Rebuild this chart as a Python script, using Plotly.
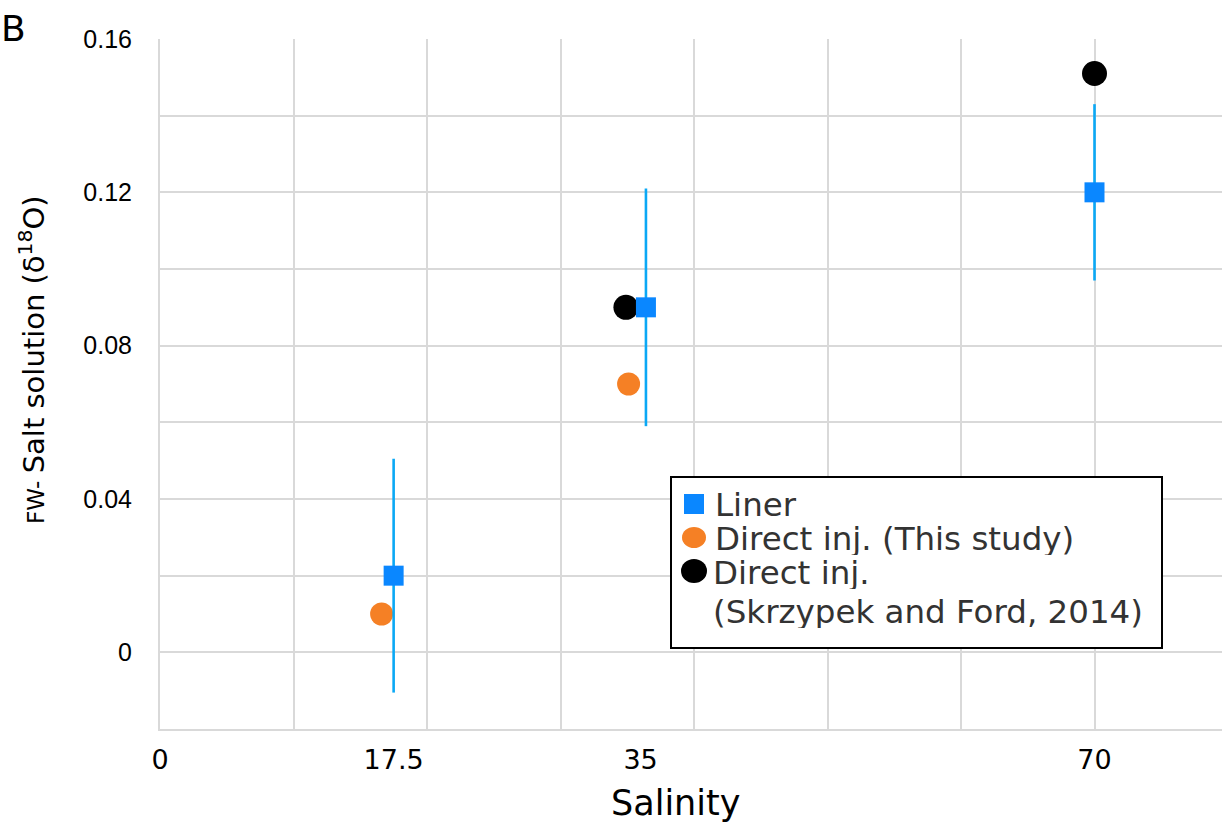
import plotly.graph_objects as go

# ---- data ----
liner_x = [17.5, 36.4, 70.0]
liner_y = [0.02, 0.09, 0.12]
liner_err = [0.0305, 0.031, 0.023]

this_x = [16.6, 35.1]
this_y = [0.01, 0.07]

skrz_x = [34.9, 70.0]
skrz_y = [0.09, 0.151]

x_tick_vals = [0, 17.5, 36.0, 70.0]
x_tick_text = ["0", "17.5", "35", "70"]

legend_labels = ["Liner", "Direct inj. (This study)", "Direct inj.", "(Skrzypek and Ford, 2014)"]

W, H = 1222, 830
L, R, T, B = 160, 0, 39, 101
grid = "#D9D9D9"
c_liner = "#0A87FF"
c_err = "#0AA8F5"
c_this = "#F58025"
c_skrz = "#000000"

fig = go.Figure()

fig.add_trace(go.Scatter(
    x=skrz_x, y=skrz_y, mode="markers",
    name="Direct inj. (Skrzypek and Ford, 2014)",
    marker=dict(symbol="circle", size=25, color=c_skrz, line=dict(width=0)),
))
fig.add_trace(go.Scatter(
    x=this_x, y=this_y, mode="markers",
    name="Direct inj. (This study)",
    marker=dict(symbol="circle", size=23, color=c_this, line=dict(width=0)),
))
fig.add_trace(go.Scatter(
    x=liner_x, y=liner_y, mode="markers",
    name="Liner",
    marker=dict(symbol="square", size=20, color=c_liner, line=dict(width=0)),
    error_y=dict(type="data", array=liner_err, visible=True,
                 color=c_err, thickness=2.6, width=0),
))

fig.update_layout(
    width=W, height=H, autosize=False,
    margin=dict(l=L, r=R, t=T, b=B, pad=0),
    paper_bgcolor="white", plot_bgcolor="white",
    font=dict(family="DejaVu Sans", color="#000000"),
    showlegend=False,
    xaxis=dict(
        range=[0, (W - L - R) / 13.35],
        tickmode="array", tickvals=x_tick_vals, ticktext=x_tick_text,
        showgrid=False, zeroline=False,
        showline=True, linecolor=grid, linewidth=2,
        ticks="", tickfont=dict(family="DejaVu Sans", size=27, color="#000000"),
        ticklabelstandoff=6,
        minor=dict(tick0=0, dtick=10, showgrid=True, gridcolor=grid, gridwidth=2, ticks=""),
    ),
    yaxis=dict(
        range=[-0.02, 0.16],
        tickmode="linear", tick0=0, dtick=0.04,
        showgrid=True, gridcolor=grid, gridwidth=2,
        zeroline=False,
        showline=True, linecolor=grid, linewidth=2,
        ticks="", tickfont=dict(family="Liberation Sans", size=25, color="#000000"),
        ticklabelstandoff=21,
        minor=dict(tick0=0, dtick=0.02, showgrid=True, gridcolor=grid, gridwidth=2, ticks=""),
    ),
)

pw, ph = W - L - R, H - T - B
def px(xp):
    return (xp - L) / pw
def py(yp):
    return (H - B - yp) / ph

# axis titles and panel letter
fig.add_annotation(
    text="<span style='font-size:23px'>FW- </span>Salt solution (δ<sup>18</sup>O)",
    xref="paper", yref="paper", x=px(32), y=py(360),
    xanchor="center", yanchor="middle", textangle=-90, showarrow=False,
    font=dict(family="DejaVu Sans", size=29, color="#000000"),
)
fig.add_annotation(
    text="Salinity",
    xref="paper", yref="paper", x=px(675), y=py(803),
    xanchor="center", yanchor="middle", showarrow=False,
    font=dict(family="DejaVu Sans", size=35, color="#000000"),
)
fig.add_annotation(
    text="B",
    xref="paper", yref="paper", x=px(-1), y=py(28),
    xanchor="left", yanchor="middle", showarrow=False,
    font=dict(family="DejaVu Sans", size=36, color="#000000"),
)

# ---- legend box (drawn) ----
fig.add_shape(type="rect", xref="paper", yref="paper",
              x0=px(671), x1=px(1162), y0=py(648), y1=py(477),
              line=dict(color="#000000", width=2), fillcolor="white", layer="above")
fig.add_shape(type="rect", xref="paper", yref="paper",
              x0=px(684), x1=px(704), y0=py(514), y1=py(494),
              line=dict(width=0), fillcolor=c_liner, layer="above")
fig.add_shape(type="circle", xref="paper", yref="paper",
              x0=px(682), x1=px(706), y0=py(548), y1=py(527),
              line=dict(width=0), fillcolor=c_this, layer="above")
fig.add_shape(type="circle", xref="paper", yref="paper",
              x0=px(681), x1=px(707), y0=py(583), y1=py(559),
              line=dict(width=0), fillcolor=c_skrz, layer="above")

leg_y = [505, 539, 573, 612]
leg_x = [713, 713, 711, 711]
for lab, lx, ly in zip(legend_labels, leg_x, leg_y):
    fig.add_annotation(
        text=lab, xref="paper", yref="paper", x=px(lx), y=py(ly),
        xanchor="left", yanchor="middle", showarrow=False,
        height=32, valign="middle",
        font=dict(family="DejaVu Sans", size=32.5, color="#333333"),
    )

fig.write_html("out.html")
